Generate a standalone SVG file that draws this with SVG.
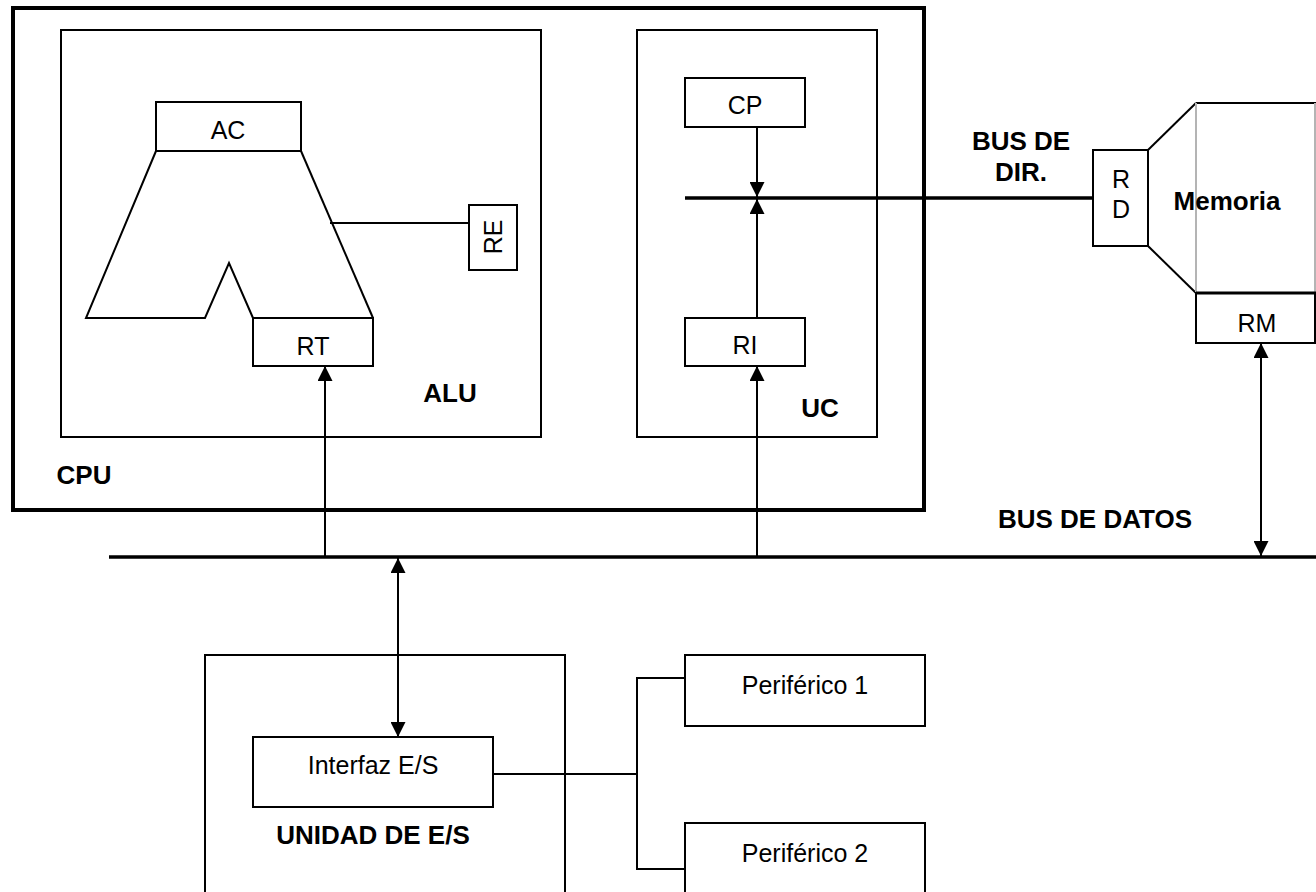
<svg xmlns="http://www.w3.org/2000/svg" width="1316" height="892" viewBox="0 0 1316 892">
<style>
.box{fill:none;stroke:#000;stroke-width:2}
.ln{fill:none;stroke:#000;stroke-width:2}
.bus{fill:none;stroke:#000;stroke-width:3.5}
.gray{fill:none;stroke:#b4b4b4;stroke-width:2}
text{font-family:"Liberation Sans",Arial,sans-serif;font-size:25px;fill:#000;text-anchor:middle}
.b{font-weight:bold;font-size:26px}
</style>
<defs>
<marker id="ah" markerUnits="userSpaceOnUse" markerWidth="15" markerHeight="15" refX="15" refY="7.5" orient="auto-start-reverse" viewBox="0 0 15 15">
<path d="M0,0 L15,7.5 L0,15 z" fill="#000"/>
</marker>
</defs>
<rect width="1316" height="892" fill="#fff"/>

<g id="cpu">
<rect x="13" y="8" width="911" height="502" fill="none" stroke="#000" stroke-width="4"/>
<text class="b" x="84" y="484">CPU</text>
</g>

<g id="alu">
<rect class="box" x="61" y="30" width="480" height="407"/>
<text class="b" x="450" y="402">ALU</text>
</g>

<g id="alu-shape">
<polyline class="ln" points="156,151 86,318 205,318 229,263 253,318"/>
<line class="ln" x1="301" y1="151" x2="373" y2="318"/>
</g>

<g id="ac">
<rect class="box" x="156" y="102" width="145" height="49"/>
<text x="228" y="139">AC</text>
</g>

<g id="rt">
<rect class="box" x="253" y="318" width="120" height="48"/>
<text x="313" y="355">RT</text>
</g>

<g id="re">
<rect class="box" x="469" y="205" width="48" height="65"/>
<text x="0" y="0" transform="translate(502,237) rotate(-90)">RE</text>
</g>

<g id="uc">
<rect class="box" x="637" y="30" width="240" height="407"/>
<text class="b" x="820" y="417">UC</text>
</g>

<g id="cp">
<rect class="box" x="685" y="78" width="120" height="49"/>
<text x="745" y="114">CP</text>
</g>

<g id="ri">
<rect class="box" x="685" y="318" width="120" height="48"/>
<text x="745" y="354">RI</text>
</g>

<g id="rd">
<rect class="box" x="1093" y="150" width="55" height="96"/>
<text x="1121" y="188">R</text>
<text x="1121" y="218">D</text>
</g>

<g id="memoria">
<line class="ln" x1="1148" y1="150" x2="1196" y2="103"/>
<line class="ln" x1="1148" y1="246" x2="1196" y2="293"/>
<line class="ln" x1="1196" y1="103" x2="1316" y2="103"/>
<line class="gray" x1="1196" y1="103" x2="1196" y2="293"/>
<line class="gray" x1="1315" y1="103" x2="1315" y2="293"/>
<text class="b" x="1227" y="210">Memoria</text>
</g>

<g id="rm">
<rect class="box" x="1196" y="293" width="119" height="50"/>
<line x1="1196" y1="293" x2="1316" y2="293" stroke="#000" stroke-width="3"/>
<text x="1257" y="332">RM</text>
</g>

<g id="unidad-es">
<rect class="box" x="205" y="655" width="360" height="260"/>
<text class="b" x="373" y="844">UNIDAD DE E/S</text>
</g>

<g id="interfaz">
<rect class="box" x="253" y="737" width="240" height="70"/>
<text x="373" y="774">Interfaz E/S</text>
</g>

<g id="periferico1">
<rect class="box" x="685" y="655" width="240" height="71"/>
<text x="805" y="694">Periférico 1</text>
</g>

<g id="periferico2">
<rect class="box" x="685" y="823" width="240" height="100"/>
<text x="805" y="862">Periférico 2</text>
</g>

<g id="labels">
<text class="b" x="1021" y="150">BUS DE</text>
<text class="b" x="1021" y="181">DIR.</text>
<text class="b" x="1192" y="528" style="text-anchor:end">BUS DE DATOS</text>
</g>

<g id="connectors">
<line class="bus" x1="109" y1="557" x2="1316" y2="557"/>
<line class="bus" x1="685" y1="198" x2="1093" y2="198"/>
<line class="ln" x1="330" y1="223" x2="469" y2="223"/>
<line class="ln" x1="757" y1="127" x2="757" y2="197" marker-end="url(#ah)"/>
<line class="ln" x1="757" y1="318" x2="757" y2="199" marker-end="url(#ah)"/>
<line class="ln" x1="325" y1="557" x2="325" y2="366" marker-end="url(#ah)"/>
<line class="ln" x1="757" y1="557" x2="757" y2="366" marker-end="url(#ah)"/>
<line class="ln" x1="398" y1="558" x2="398" y2="737" marker-start="url(#ah)" marker-end="url(#ah)"/>
<line class="ln" x1="1261" y1="343" x2="1261" y2="556" marker-start="url(#ah)" marker-end="url(#ah)"/>
<polyline class="ln" points="493,774 637,774"/>
<polyline class="ln" points="685,678 637,678 637,869 685,869"/>
</g>
</svg>
